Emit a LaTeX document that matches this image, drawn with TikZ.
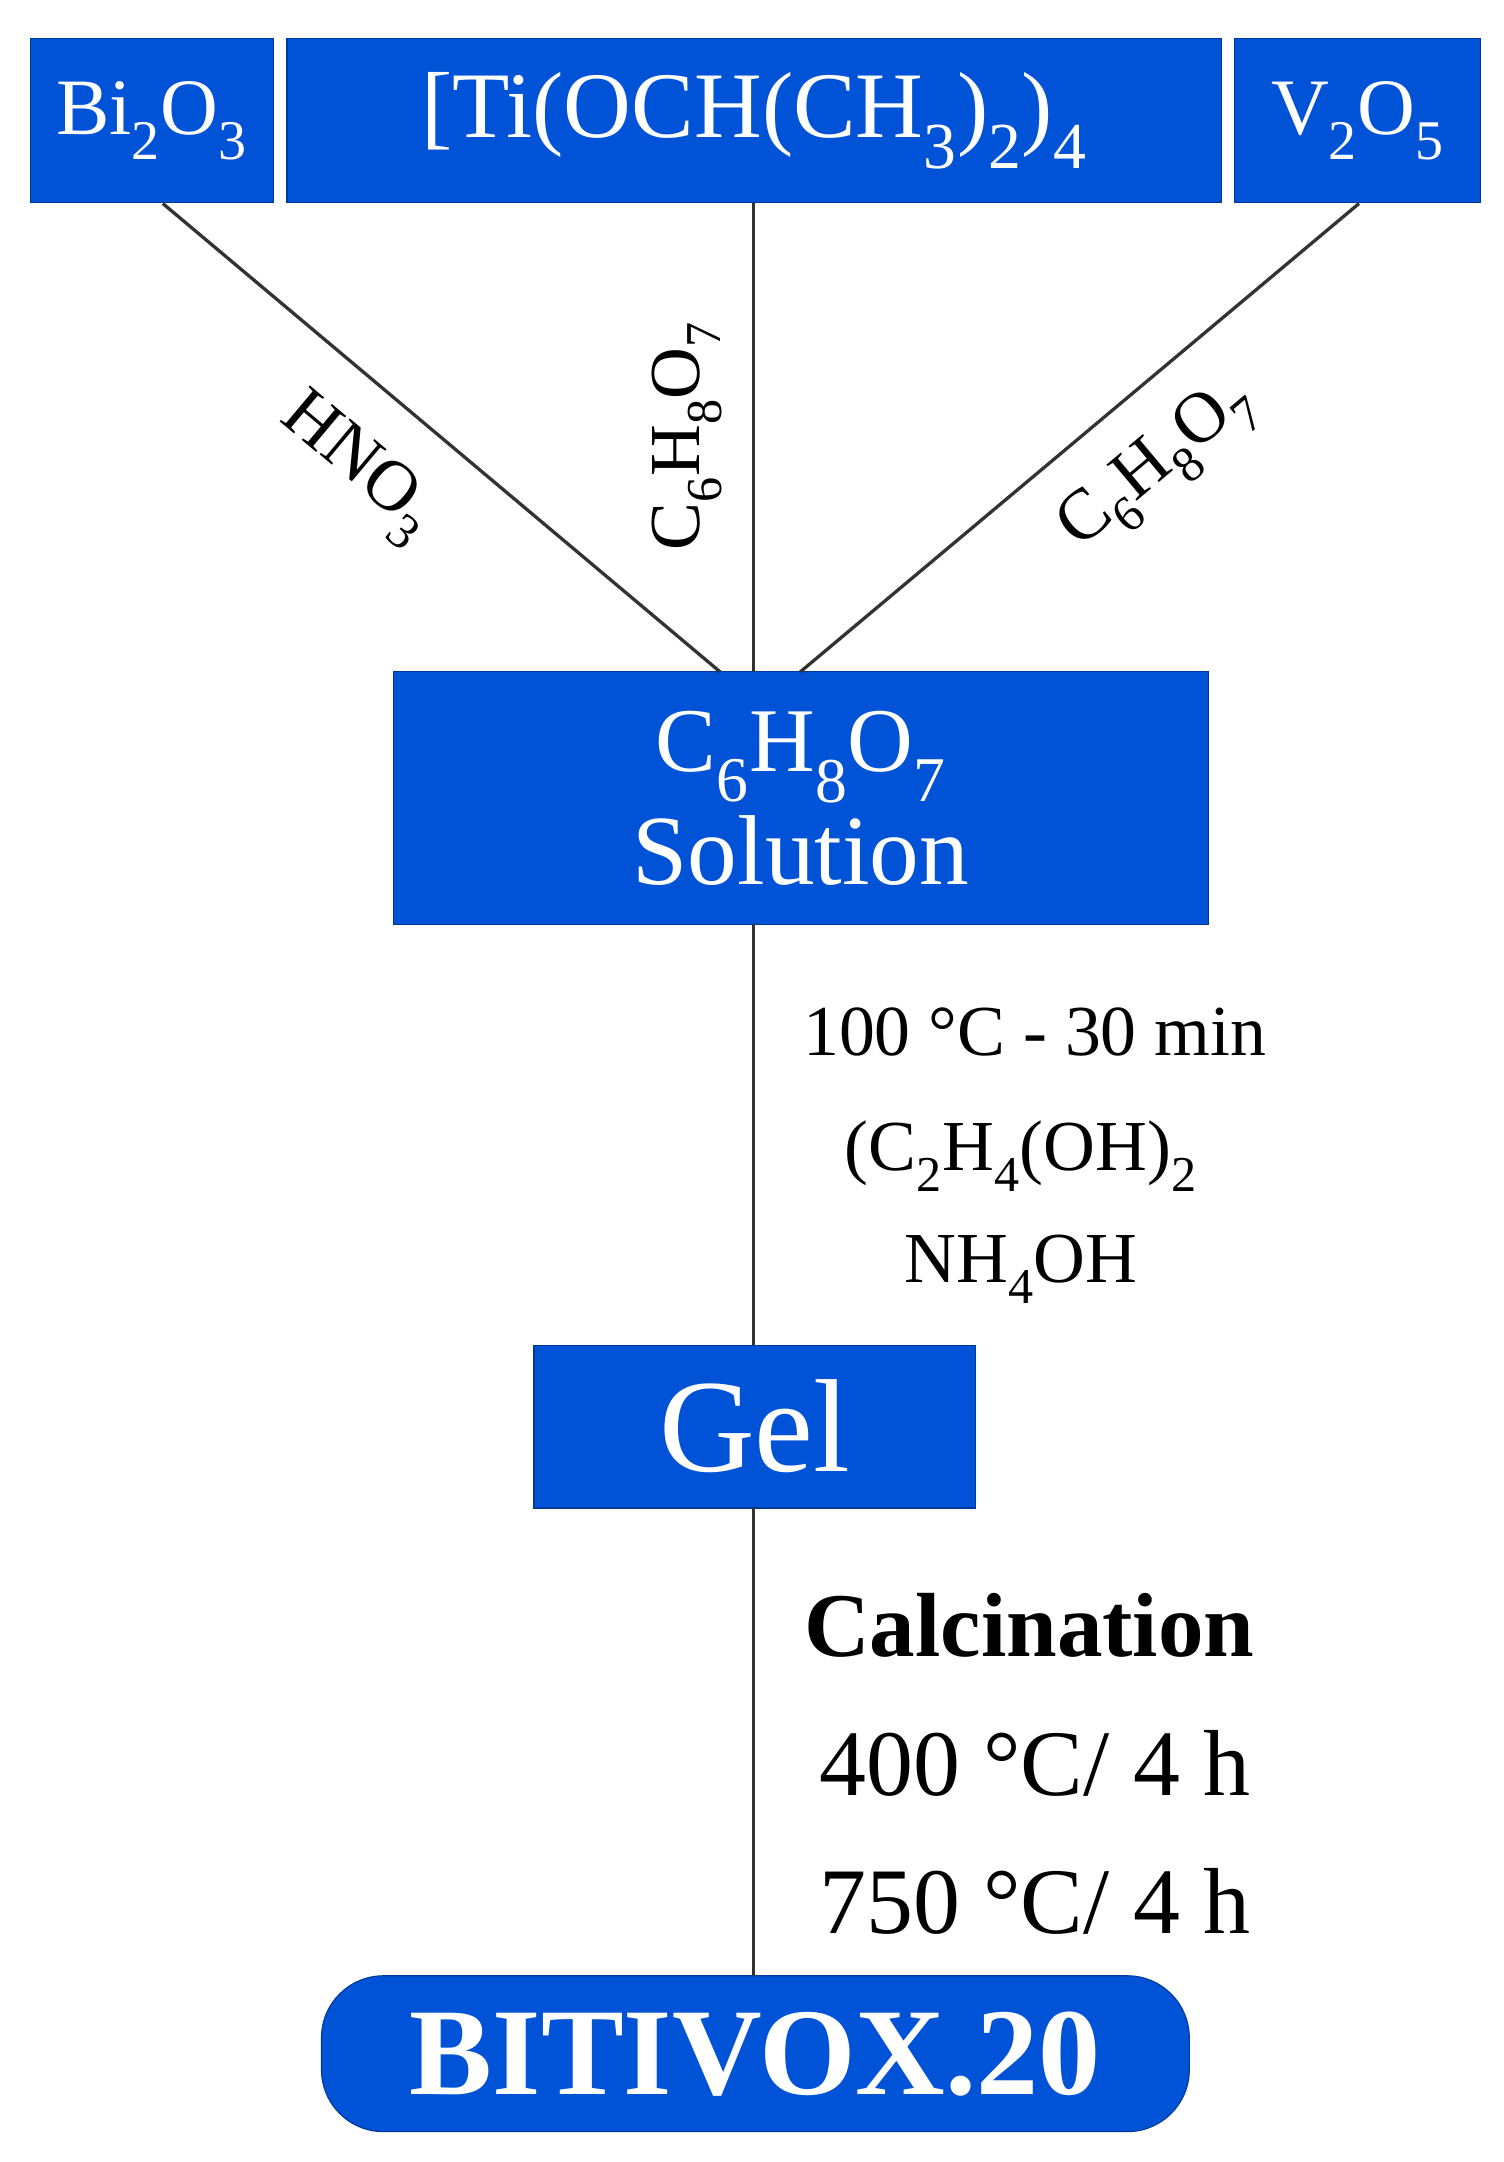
\documentclass[tikz,border=0pt]{standalone}
\usepackage{fontspec}
\setmainfont{Liberation Serif}
\definecolor{bl}{RGB}{0,82,214}
\begin{document}
\begin{tikzpicture}[x=1pt,y=-1pt,
 box/.style={fill=bl,draw=bl!70!black,line width=0.8pt,text=white,inner sep=0pt},
 ln/.style={line width=2.4pt,black!80},
 lab/.style={inner sep=0pt,font=\fontsize{52}{56}\selectfont}]
\useasboundingbox (0,0) rectangle (1090,1567);
\node[box,minimum width=176pt,minimum height=119pt] (bi) at (110,87.5) {\fontsize{58}{62}\selectfont Bi$_{\mathrm{2}}$O$_{\mathrm{3}}$};
\node[box,minimum width=677pt,minimum height=119pt] (ti) at (546.5,87.5) {\fontsize{68}{72}\selectfont [Ti(OCH(CH$_{\mathrm{3}}$)$_{\mathrm{2}}$)$_{\mathrm{4}}$};
\node[box,minimum width=178pt,minimum height=119pt] (v) at (984,87.5) {\fontsize{58}{62}\selectfont V$_{\mathrm{2}}$O$_{\mathrm{5}}$};
\node[box,minimum width=591pt,minimum height=183pt,align=center] (sol) at (580.5,578.5) {\fontsize{66}{72}\selectfont C$_{\mathrm{6}}$H$_{\mathrm{8}}$O$_{\mathrm{7}}$\\[8pt]\fontsize{72}{72}\selectfont Solution};
\node[box,minimum width=320pt,minimum height=118pt] (gel) at (547,1034) {\fontsize{96}{100}\selectfont Gel};
\node[box,rounded corners=45pt,minimum width=629pt,minimum height=113pt] (bx) at (547.5,1488.5) {\fontsize{90}{94}\selectfont\bfseries BITIVOX.20};
\coordinate (a1) at (118,147.5);
\coordinate (a2) at (985,147.5);
\draw[ln] (a1) -- (522,487);
\draw[ln] (ti.south -| 546,0) -- (546,487);
\draw[ln] (a2) -- (580,487);
\draw[ln] (546,670) -- (546,975);
\draw[ln] (546,1093) -- (546,1432);
\node[lab,rotate=-40] at (258,340) {HNO$_{\mathrm{3}}$};
\node[lab,rotate=90] at (498,316) {C$_{\mathrm{6}}$H$_{\mathrm{8}}$O$_{\mathrm{7}}$};
\node[lab,rotate=40] at (840,338) {C$_{\mathrm{6}}$H$_{\mathrm{8}}$O$_{\mathrm{7}}$};
\node[lab] at (750,748) {100 °C - 30 min};
\node[lab] at (740,838) {(C$_{\mathrm{2}}$H$_{\mathrm{4}}$(OH)$_{\mathrm{2}}$};
\node[lab] at (740,920) {NH$_{\mathrm{4}}$OH};
\node[lab,font=\fontsize{66}{70}\selectfont\bfseries] at (746,1178) {Calcination};
\node[lab,font=\fontsize{68}{72}\selectfont] at (750,1278) {400 °C/ 4 h};
\node[lab,font=\fontsize{68}{72}\selectfont] at (750,1378) {750 °C/ 4 h};
\end{tikzpicture}
\end{document}
